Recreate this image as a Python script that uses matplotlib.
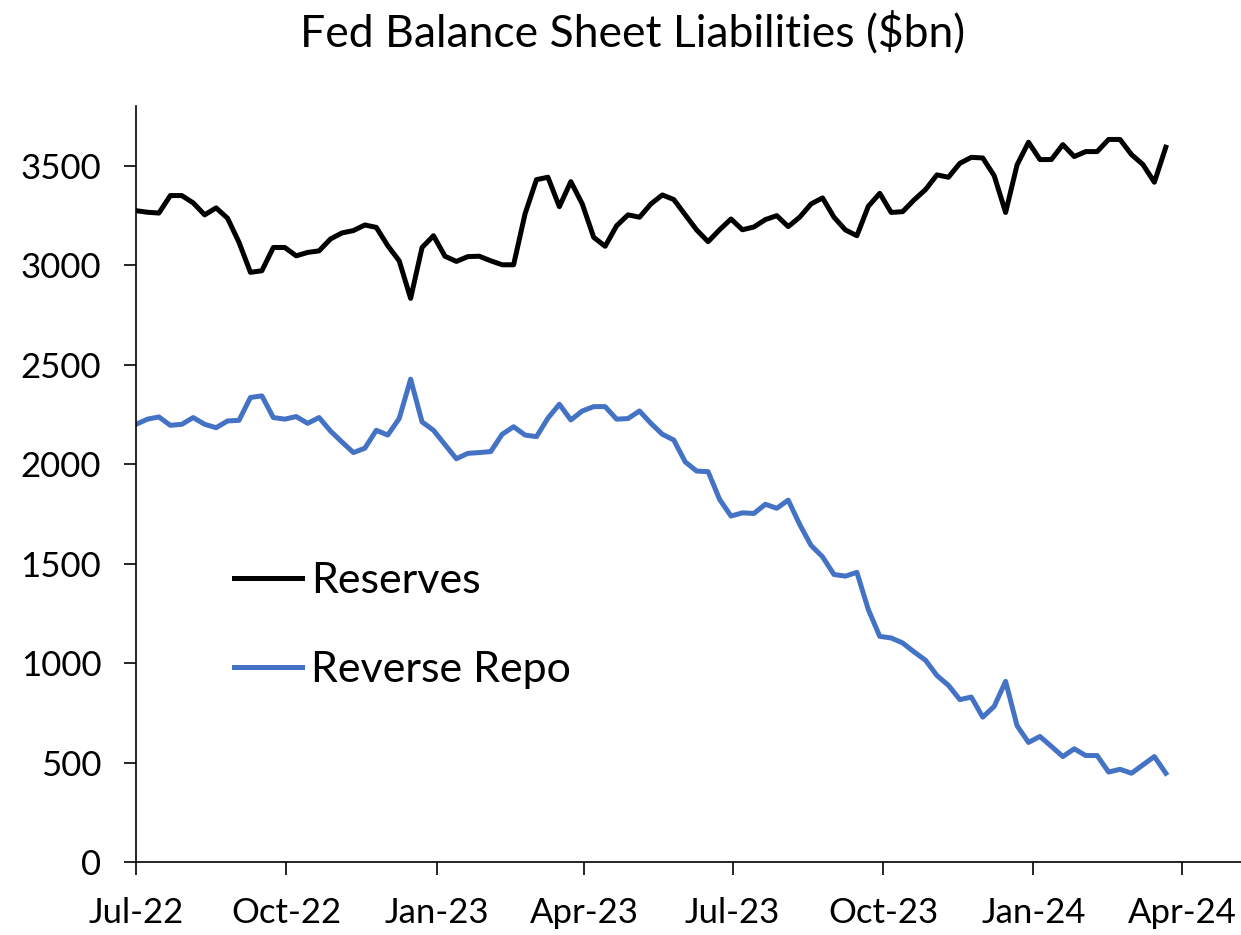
import matplotlib
matplotlib.use("Agg")
import matplotlib.pyplot as plt
import matplotlib.dates as mdates
import pandas as pd

plt.rcParams['font.family'] = ['Lato', 'DejaVu Sans']

# weekly observations, $bn
start_date = "2022-07-01"
reserves = [
    3274, 3266, 3262, 3350, 3350, 3313, 3253, 3288, 3236, 3115,
    2964, 2972, 3089, 3089, 3047, 3064, 3072, 3132, 3162, 3174,
    3202, 3190, 3098, 3022, 2833, 3089, 3148, 3045, 3019, 3043,
    3045, 3022, 3002, 3002, 3258, 3430, 3442, 3294, 3420, 3308,
    3140, 3095, 3198, 3253, 3241, 3308, 3353, 3330, 3253, 3177,
    3118, 3178, 3232, 3178, 3192, 3229, 3249, 3194, 3241, 3308,
    3338, 3241, 3177, 3148, 3296, 3361, 3265, 3269, 3328, 3380,
    3454, 3442, 3512, 3542, 3539, 3450, 3265, 3504, 3618, 3531,
    3531, 3606, 3546, 3571, 3571, 3632, 3632, 3556, 3506, 3417,
    3593,
]
reverse_repo = [
    2200, 2226, 2237, 2195, 2200, 2234, 2200, 2183, 2217, 2220,
    2335, 2343, 2234, 2226, 2239, 2205, 2234, 2166, 2111, 2058,
    2080, 2170, 2146, 2229, 2427, 2212, 2170, 2098, 2027, 2054,
    2058, 2063, 2150, 2188, 2146, 2138, 2231, 2301, 2222, 2267,
    2289, 2289, 2226, 2229, 2267, 2205, 2150, 2121, 2011, 1965,
    1962, 1823, 1739, 1755, 1752, 1798, 1778, 1819, 1697, 1591,
    1534, 1445, 1437, 1456, 1269, 1134, 1126, 1101, 1056, 1014,
    937, 888, 816, 829, 728, 782, 908, 685, 601, 631,
    581, 530, 569, 535, 535, 452, 466, 446, 488, 530,
    446,
]
dates = pd.date_range(start_date, periods=len(reserves), freq="7D")

fig = plt.figure(figsize=(12.41, 9.35), dpi=100)
ax = fig.add_axes([0.1096, 0.0781, 0.8904, 0.8085])

blue = '#4472C4'
ax.plot(dates, reserves, color='black', lw=3.6, label='Reserves', solid_joinstyle='round')
ax.plot(dates, reverse_repo, color=blue, lw=3.6, label='Reverse Repo', solid_joinstyle='round')

ax.set_ylim(0, 3800)
ax.set_yticks(range(0, 4000, 500))
ax.set_xlim(pd.Timestamp("2022-07-01"), pd.Timestamp("2024-05-07"))
ax.xaxis.set_major_locator(mdates.MonthLocator(bymonth=[1, 4, 7, 10]))
ax.xaxis.set_major_formatter(mdates.DateFormatter('%b-%y'))

for s in ['top', 'right']:
    ax.spines[s].set_visible(False)
for s in ['left', 'bottom']:
    ax.spines[s].set_linewidth(1.2)
ax.tick_params(axis='both', direction='out', length=9, width=1.2, labelsize=25)
ax.tick_params(axis='x', pad=16)
ax.tick_params(axis='y', pad=16)

fig.text(0.51, 0.965, 'Fed Balance Sheet Liabilities ($bn)', ha='center', va='center', fontsize=32)

ax.legend(loc='upper left', bbox_to_anchor=(0.157, 0.44), bbox_transform=fig.transFigure,
          frameon=False, fontsize=31, handlelength=1.6, handletextpad=0.2, labelspacing=1.18)

fig.savefig('out.png', dpi=100)
